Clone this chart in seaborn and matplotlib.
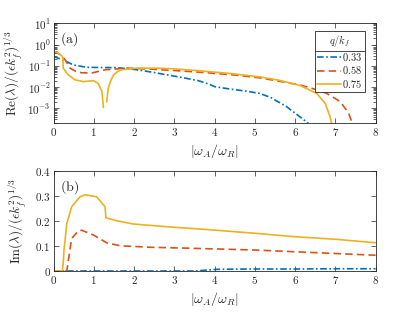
import numpy as np
import pandas as pd
import matplotlib
matplotlib.use("Agg")
import matplotlib.pyplot as plt
from matplotlib.ticker import FuncFormatter, LogLocator, NullFormatter
import seaborn as sns

# Dados
labels = ["0.33", "0.58", "0.75"]
cores = ["#0072BD", "#D95319", "#EDB120"]

# (a) parte real
x_re_033 = [0, 0.24, 0.49, 0.82, 1.2, 1.57, 2.0, 2.4, 2.8, 3.2, 3.6, 3.85, 4.0, 4.4,
            4.8, 5.13, 5.4, 5.79, 6.12, 6.33]
re_033 = [0.27, 0.19, 0.11, 0.085, 0.083, 0.082, 0.068, 0.052, 0.038, 0.028, 0.02,
          0.014, 0.0105, 0.008, 0.0064, 0.005, 0.0032, 0.0012, 0.0004, 0.0002]

x_re_058 = [0, 0.1, 0.2, 0.29, 0.41, 0.55, 0.7, 0.95, 1.28, 1.82, 2.4, 3.0, 3.64,
            4.5, 5.13, 5.6, 6.12, 6.54, 6.79, 7.12, 7.33, 7.42]
re_058 = [0.42, 0.4, 0.3, 0.19, 0.078, 0.055, 0.047, 0.046, 0.065, 0.078, 0.07,
          0.06, 0.05, 0.037, 0.027, 0.019, 0.0126, 0.0075, 0.005, 0.0021, 0.0006, 0.0002]

# o ramo 0.75 tem uma quebra perto de 1.25
x_re_075a = [0, 0.1, 0.2, 0.23, 0.24, 0.35, 0.53, 0.74, 0.99, 1.11, 1.2, 1.24]
re_075a = [0.48, 0.42, 0.3, 0.25, 0.078, 0.04, 0.022, 0.018, 0.02, 0.015, 0.0063, 0.0011]
x_re_075b = [1.32, 1.36, 1.42, 1.49, 1.6, 1.69, 2.07, 2.64, 3.0, 3.64, 4.47, 5.13,
             5.6, 6.12, 6.54, 6.75, 6.87, 6.91]
re_075b = [0.002, 0.009, 0.02, 0.037, 0.055, 0.065, 0.078, 0.077, 0.072, 0.058, 0.042,
           0.03, 0.021, 0.012, 0.005, 0.0017, 0.0004, 0.0002]

# (b) parte imaginaria
x_im_033 = [0, 3.5, 4.1, 5, 6, 7, 8]
im_033 = [0, 0, 0.007, 0.008, 0.008, 0.009, 0.009]

x_im_058 = [0, 0.33, 0.37, 0.45, 0.62, 0.7, 0.99, 1.32, 1.65, 2.4, 3.64, 5, 6, 7, 8]
im_058 = [0, 0, 0.044, 0.13, 0.161, 0.163, 0.144, 0.113, 0.101, 0.095, 0.09, 0.084,
          0.077, 0.07, 0.063]

x_im_075 = [0, 0.22, 0.24, 0.26, 0.33, 0.45, 0.66, 0.78, 1.07, 1.28, 1.3, 1.57, 1.98,
            2.98, 3.64, 5.0, 6.0, 7.0, 8.0]
im_075 = [0, 0, 0.03, 0.084, 0.19, 0.257, 0.297, 0.305, 0.297, 0.257, 0.213, 0.201,
          0.188, 0.175, 0.168, 0.151, 0.137, 0.127, 0.113]

sns.set_style("ticks")
plt.rcParams["font.family"] = ["DejaVu Serif"]
plt.rcParams["mathtext.fontset"] = "cm"

estilos = [dict(dashes=(4, 1.5, 1, 1.5)), dict(dashes=(4.5, 2.5)), dict(linestyle="-")]
lw = 1.2
cinza = "#262626"

fig = plt.figure(figsize=(4.15, 3.12), dpi=100)
ax1 = fig.add_axes([0.129, 0.605, 0.776, 0.3205])
ax2 = fig.add_axes([0.129, 0.1314, 0.776, 0.3205])


def linha(ax, x, y, i, label=None):
    sns.lineplot(x=x, y=y, ax=ax, color=cores[i], lw=lw, label=label,
                 estimator=None, sort=False, **estilos[i])


# Grafico (a)
linha(ax1, x_re_033, re_033, 0, "$0.33$")
linha(ax1, x_re_058, re_058, 1, "$0.58$")
linha(ax1, x_re_075a, re_075a, 2, "$0.75$")
linha(ax1, x_re_075b, re_075b, 2)
ax1.set_yscale("log")
ax1.set_ylim(2e-4, 10)
ax1.yaxis.set_major_locator(LogLocator(base=10, numticks=10))
ax1.yaxis.set_minor_locator(LogLocator(base=10, subs=np.arange(2, 10), numticks=20))
ax1.yaxis.set_minor_formatter(NullFormatter())
ax1.yaxis.set_major_formatter(FuncFormatter(lambda v, p: r"$10^{%d}$" % round(np.log10(v))))
ax1.set_ylabel(r"$\mathrm{Re}(\lambda)/(\epsilon k_f^2)^{1/3}$", fontsize=9.5, labelpad=2)
ax1.text(0.02, 0.93, r"$\mathrm{(a)}$", transform=ax1.transAxes, fontsize=10,
         va="top", ha="left")

# Grafico (b)
linha(ax2, x_im_033, im_033, 0)
linha(ax2, x_im_058, im_058, 1)
linha(ax2, x_im_075, im_075, 2)
ax2.set_ylim(0, 0.4)
ax2.set_yticks([0, 0.1, 0.2, 0.3, 0.4])
ax2.yaxis.set_major_formatter(FuncFormatter(lambda v, p: r"$%g$" % round(v, 2)))
ax2.set_ylabel(r"$\mathrm{Im}(\lambda)/(\epsilon k_f^2)^{1/3}$", fontsize=9.5, labelpad=4)
ax2.text(0.02, 0.93, r"$\mathrm{(b)}$", transform=ax2.transAxes, fontsize=10,
         va="top", ha="left")

for ax in (ax1, ax2):
    ax.set_xlim(0, 8)
    ax.set_xticks(range(9))
    ax.xaxis.set_major_formatter(FuncFormatter(lambda v, p: r"$%d$" % v))
    ax.set_xlabel(r"$|\omega_A/\omega_R|$", fontsize=10, labelpad=3)
    ax.tick_params(which="both", direction="in", top=True, right=True, colors=cinza,
                   labelsize=8, width=0.5, pad=2)
    ax.tick_params(which="major", length=3.5)
    ax.tick_params(which="minor", length=2)
    for s in ax.spines.values():
        s.set_visible(True)
        s.set_color(cinza)
        s.set_linewidth(0.6)

leg = ax1.legend(title=r"$q/k_f$", loc="upper right", bbox_to_anchor=(0.967, 0.926),
                 fontsize=7.5, title_fontsize=7.5, fancybox=False, framealpha=1,
                 edgecolor=cinza, handlelength=2.3, handletextpad=0.1,
                 borderpad=0.25, labelspacing=0.15, borderaxespad=0)
leg.get_frame().set_linewidth(0.6)
leg.set_zorder(20)

# Linha separando o titulo da legenda (estilo MATLAB)
fig.canvas.draw()
r = fig.canvas.get_renderer()
bb_leg = leg.get_window_extent(r).transformed(ax1.transAxes.inverted())
bb_tit = leg.get_title().get_window_extent(r).transformed(ax1.transAxes.inverted())
y_sep = bb_tit.y0 - 0.02
ax1.plot([bb_leg.x0, bb_leg.x1], [y_sep, y_sep], transform=ax1.transAxes,
         color=cinza, lw=0.6, zorder=30, clip_on=False)

fig.savefig("out.png", dpi=100)
